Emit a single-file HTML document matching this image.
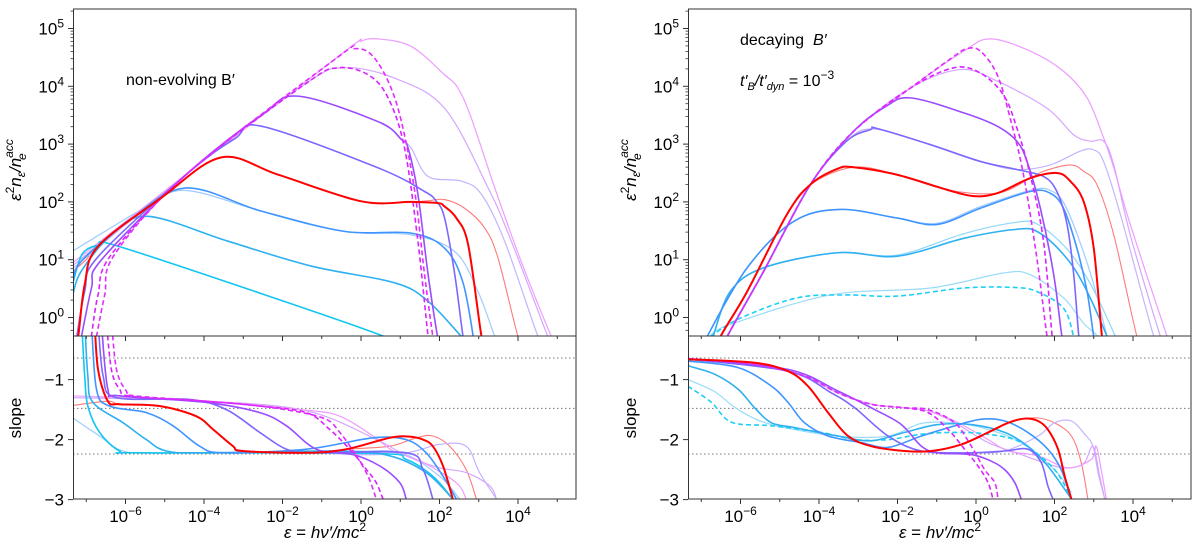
<!DOCTYPE html>
<html><head><meta charset="utf-8"><style>
html,body{margin:0;padding:0;background:#fff;}
svg{display:block;font-family:"Liberation Sans","DejaVu Sans",sans-serif;}
</style></head><body>
<svg id="chart" width="1200" height="557" viewBox="0 0 1200 557" xmlns="http://www.w3.org/2000/svg">
<defs>
<clipPath id="clipTop"><rect x="0" y="9" width="503" height="327"/></clipPath>
<clipPath id="clipBot"><rect x="0" y="336" width="503" height="163"/></clipPath>
</defs>
<g id="panelL" transform="translate(73,0)"></g>
<g id="panelR" transform="translate(688,0)"></g>
</svg>
<script>
// ---- data (log10 epsilon, log10 y) ----
const xTickExps = [-6,-4,-2,0,2,4];
const yTickExps = [0,1,2,3,4,5];
const slopeTicks = [-1,-2,-3];
const slopeRefLines = [-0.64,-1.48,-2.24];

// left top
const TL_cyan_x=[-7.34,-7.1,-6.70,-6.27,-2.96,0.60,1.2];
const TL_cyan_y=[0.6,1.1,1.25,1.25,0.51,-0.33,-0.6];
const TL_cyanblue_x=[-7.34,-7.13,-6.36,-5.43,-3.39,-1.27,0.86,1.71,2.56,2.8];
const TL_cyanblue_y=[0.4,0.80,1.43,1.75,1.32,0.89,0.60,0.28,-0.33,-0.5];
const TL_blue_x=[-7.34,-7.13,-5.94,-4.49,-2.54,-0.42,1.28,2.13,2.6,2.9];
const TL_blue_y=[0.6,0.97,1.66,2.24,1.84,1.49,1.46,1.20,0.6,-0.5];
const TL_lblue_x=[-7.34,-6.5,-5.5,-4.49,-2.54,-0.42,1.28,2.39,2.98,3.41,3.6];
const TL_lblue_y=[1.15,1.5,1.9,2.2,1.84,1.49,1.43,1.14,0.45,-0.33,-0.6];
const TL_red_x=[-7.34,-7.21,-7.04,-6.70,-5.09,-3.56,-2.11,0.01,1.28,1.96,2.13,2.43,2.73,3.07,3.2];
const TL_red_y=[-0.6,-0.35,0.57,1.23,2.07,2.77,2.47,2.01,2.00,1.98,1.92,1.72,1.26,-0.33,-0.6];
const TL_salmon_x=[-7.34,-7.0,-6.70,-5.09,-3.56,-2.11,0.01,1.28,1.71,2.13,2.64,3.15,3.49,4.0,4.2];
const TL_salmon_y=[0.8,1.0,1.23,2.07,2.77,2.47,2.01,2.00,2.02,2.04,1.89,1.55,1.03,-0.33,-0.6];
const TL_mslate_x=[-7.3,-7.04,-6.70,-4.41,-3.2,-2.54,0.43,1.62,1.92,2.13,2.39,2.60,2.7];
const TL_mslate_y=[-0.6,0.45,1.05,2.50,3.1,3.31,2.59,2.18,2.01,1.72,0.74,-0.33,-0.6];
const TL_violet_x=[-7.2,-6.87,-6.61,-4.41,-2.5,-1.61,0.43,1.03,1.20,1.45,1.71,1.95,2.05];
const TL_violet_y=[-0.6,0.5,1.0,2.50,3.52,3.83,3.39,3.08,2.93,2.13,0.74,-0.33,-0.6];
const TL_lav_x=[-7.34,-4.41,-2.5,-1.61,0.43,1.03,1.28,1.71,2.56,3.07,3.66,4.51,4.7];
const TL_lav_y=[0.85,2.5,3.52,3.83,3.39,3.08,2.93,2.44,2.36,2.13,1.32,-0.33,-0.5];
const TL_dash1_x=[-6.87,-6.70,-6.36,-4.41,-1.4,-0.59,0.18,0.69,1.11,1.45,1.71,1.8];
const TL_dash1_y=[-0.33,0.39,1.09,2.50,4.05,4.32,4.20,3.80,2.93,1.32,-0.33,-0.6];
const TL_dash2_x=[-6.74,-6.53,-6.27,-4.41,-0.6,-0.16,0.26,0.69,1.03,1.37,1.62,1.83,1.9];
const TL_dash2_y=[-0.33,0.39,1.1,2.50,4.5,4.65,4.55,4.09,3.39,2.18,0.74,-0.33,-0.6];
const TL_lviolet_x=[-7.34,-4.41,-1.4,-0.42,0.86,2.13,3.24,3.83,4.76,4.9];
const TL_lviolet_y=[0.9,2.50,4.05,4.32,4.14,3.62,2.24,1.32,-0.33,-0.5];
const TL_orchid_x=[-7.34,-4.41,-0.42,0.0,0.43,1.28,2.13,2.47,2.81,3.41,4.08,4.85,5.0];
const TL_orchid_y=[0.95,2.50,4.6,4.78,4.82,4.69,4.20,3.97,3.45,2.24,0.97,-0.33,-0.5];

// right top
const TR_cdash_x=[-6.77,-6.00,-4.56,-3.29,-2.01,-0.31,0.96,1.55,2.23,2.49,2.6];
const TR_cdash_y=[-0.33,-0.01,0.34,0.39,0.37,0.51,0.52,0.45,0.16,-0.33,-0.6];
const TR_lcyan_x=[-6.8,-6.26,-3.71,-1.16,0.70,1.38,2.23,2.74,3.1,3.2];
const TR_lcyan_y=[-0.33,-0.12,0.39,0.51,0.77,0.74,0.34,-0.1,-0.33,-0.6];
const TR_cyanblue_x=[-6.7,-6.26,-5.41,-3.54,-2.01,-0.31,0.96,1.55,2.23,2.74,3.34,3.45];
const TR_cyanblue_y=[-0.33,0.45,0.86,1.12,1.06,1.37,1.52,1.49,1.09,0.57,-0.33,-0.6];
const TR_lcyan2_x=[-6.7,-6.26,-5.41,-3.54,-2.01,-0.31,0.96,1.55,2.3,2.9,3.55,3.65];
const TR_lcyan2_y=[-0.33,0.45,0.86,1.12,1.08,1.45,1.64,1.62,1.2,0.6,-0.33,-0.6];
const TR_blue_x=[-7.0,-6.85,-5.83,-4.65,-3.46,-2.01,-0.99,0.11,1.38,1.89,2.23,2.57,2.83,3.0,3.1];
const TR_blue_y=[-0.6,-0.33,0.86,1.66,1.87,1.72,1.61,1.89,2.18,2.15,1.89,1.20,0.45,-0.33,-0.6];
const TR_lblue_x=[-7.0,-6.85,-5.83,-4.65,-3.46,-2.01,-0.99,0.11,1.38,1.89,2.3,2.9,3.34,3.45];
const TR_lblue_y=[-0.6,-0.33,0.86,1.66,1.87,1.72,1.63,1.92,2.2,2.2,1.9,0.8,-0.33,-0.6];
const TR_red_x=[-6.6,-6.51,-5.83,-4.82,-4.22,-3.54,-3.12,-2.01,-0.74,-0.06,0.54,1.38,2.06,2.40,2.74,3.00,3.21,3.3];
const TR_red_y=[-0.6,-0.33,0.45,1.78,2.30,2.57,2.60,2.47,2.21,2.10,2.15,2.41,2.50,2.36,2.01,1.20,-0.33,-0.6];
const TR_salmon_x=[-6.6,-6.51,-5.83,-4.82,-4.22,-3.12,-2.01,-0.74,0.54,1.38,1.72,2.40,2.74,3.08,3.51,4.10,4.3];
const TR_salmon_y=[-0.6,-0.33,0.45,1.78,2.30,2.60,2.47,2.21,2.15,2.41,2.53,2.64,2.53,2.30,1.43,-0.33,-0.6];
const TR_mslate_x=[-6.5,-6.34,-5.41,-4.22,-3.3,-2.69,-2.52,-1.16,0.11,1.04,1.72,2.06,2.32,2.49,2.62,2.7];
const TR_mslate_y=[-0.6,-0.33,0.80,2.30,3.05,3.25,3.27,2.99,2.70,2.56,2.44,2.18,1.61,0.74,-0.33,-0.6];
const TR_lav_x=[-6.5,-6.34,-5.41,-4.22,-3.3,-2.6,-1.16,0.11,1.04,1.89,2.66,3.0,3.25,3.68,4.53,4.7];
const TR_lav_y=[-0.6,-0.33,0.80,2.30,3.05,3.26,2.99,2.70,2.56,2.64,2.88,2.90,2.70,1.78,-0.33,-0.5];
const TR_violet_x=[-6.45,-6.34,-5.41,-4.22,-3.12,-2.3,-1.67,-0.31,0.54,1.04,1.30,1.64,1.98,2.19,2.3];
const TR_violet_y=[-0.6,-0.33,0.80,2.30,3.22,3.65,3.80,3.54,3.31,3.05,2.70,1.89,0.74,-0.33,-0.6];
const TR_dash1_x=[-6.45,-6.34,-5.41,-4.22,-3.12,-1.67,-0.57,0.11,0.70,1.04,1.38,1.72,1.94,2.0];
const TR_dash1_y=[-0.6,-0.33,0.80,2.30,3.22,3.97,4.32,4.23,3.85,3.28,2.47,1.32,-0.33,-0.6];
const TR_dash2_x=[-6.45,-6.34,-5.41,-4.22,-3.12,-1.67,-0.6,-0.23,0.11,0.54,0.87,1.21,1.55,1.81,1.9];
const TR_dash2_y=[-0.6,-0.33,0.80,2.30,3.22,3.97,4.5,4.65,4.61,4.20,3.45,2.47,1.03,-0.33,-0.6];
const TR_lviolet_x=[-6.45,-6.34,-5.41,-4.22,-3.12,-1.67,-0.40,0.54,1.81,2.49,2.91,3.25,3.51,3.93,4.70,4.85];
const TR_lviolet_y=[-0.6,-0.33,0.80,2.30,3.22,3.97,4.29,4.09,3.62,3.16,3.05,3.05,2.64,1.43,-0.33,-0.5];
const TR_orchid_x=[-6.45,-6.34,-5.41,-4.22,-3.12,-1.67,-0.31,0.37,1.38,2.23,2.83,3.25,3.51,3.93,4.87,5.0];
const TR_orchid_y=[-0.6,-0.33,0.80,2.30,3.22,3.97,4.61,4.82,4.61,4.26,3.80,3.11,2.59,1.61,-0.33,-0.5];

// left bottom (slope)
const BL_lblue_x=[-7.34,-6.66,-6.06,-5.0,-0.5,1.0,2.00,2.51];
const BL_lblue_s=[-1.64,-1.94,-2.19,-2.22,-2.20,-2.22,-2.61,-2.99];
const BL_cyan_x=[-7.12,-7.04,-6.96,-6.66,-6.15,-5.64,0.31,1.15,1.83,2.34];
const BL_cyan_s=[0,-0.94,-1.44,-1.88,-2.19,-2.22,-2.23,-2.33,-2.61,-2.99];
const BL_cyanblue_x=[-7.04,-6.96,-6.83,-6.06,-5.47,-4.96,-3.94,-0.54,0.73,1.66,2.34];
const BL_cyanblue_s=[0,-0.94,-1.38,-1.72,-2.00,-2.19,-2.22,-2.19,-2.27,-2.55,-2.99];
const BL_blue_x=[-6.87,-6.74,-6.41,-5.47,-4.79,-4.11,-3.52,-1.39,0.31,1.15,1.66,2.09,2.43];
const BL_blue_s=[0,-1.16,-1.44,-1.55,-1.77,-2.11,-2.22,-2.16,-1.97,-2.00,-2.22,-2.61,-2.99];
const BL_red_x=[-6.79,-6.70,-6.45,-6.15,-5.13,-4.20,-3.77,-3.26,-3.01,-1.39,-0.37,0.73,1.24,1.58,1.83,2.09,2.34];
const BL_red_s=[0,-0.83,-1.36,-1.41,-1.44,-1.61,-1.83,-2.11,-2.19,-2.22,-2.16,-1.97,-1.95,-2.00,-2.11,-2.44,-2.99];
const BL_salmon_x=[-7.34,-6.45,-6.15,-5.13,-4.20,-3.77,-3.26,-3.01,-1.39,-0.37,0.73,1.41,1.83,2.26,2.68,2.94];
const BL_salmon_s=[-1.43,-1.36,-1.41,-1.44,-1.61,-1.83,-2.11,-2.19,-2.22,-2.16,-2.11,-1.97,-1.94,-2.11,-2.50,-2.99];
const BL_mslate_x=[-6.70,-6.57,-6.23,-4.37,-3.43,-2.58,-1.90,-1.22,1.15,1.58,1.83];
const BL_mslate_s=[0,-0.94,-1.30,-1.33,-1.50,-1.88,-2.16,-2.22,-2.22,-2.50,-2.99];
const BL_lav_x=[-6.62,-6.45,-6.15,-3.94,-2.58,-1.90,-1.14,-0.20,1.15,2.00,2.68,3.02,3.45];
const BL_lav_s=[0,-1.16,-1.27,-1.38,-1.55,-1.77,-2.16,-2.25,-2.22,-2.08,-2.11,-2.55,-2.99];
const BL_violet_x=[-6.62,-6.45,-6.15,-3.94,-2.58,-1.90,-1.14,-0.20,0.48,0.99,1.15];
const BL_violet_s=[0,-1.16,-1.27,-1.38,-1.55,-1.77,-2.16,-2.25,-2.44,-2.72,-2.99];
const BL_dash1_x=[-6.49,-6.36,-6.15,-5.85,-3.94,-2.58,-1.39,-0.80,-0.29,0.14,0.39,0.56];
const BL_dash1_s=[0,-0.83,-1.16,-1.28,-1.36,-1.44,-1.55,-1.83,-2.16,-2.50,-2.72,-2.99];
const BL_dash2_x=[-6.36,-6.23,-5.98,-5.77,-3.94,-2.24,-0.97,-0.54,-0.12,0.18,0.39];
const BL_dash2_s=[0,-0.83,-1.19,-1.27,-1.36,-1.47,-1.64,-1.88,-2.27,-2.61,-2.99];
const BL_lviolet_x=[-7.34,-3.94,-1.39,0.4,1.15,2.00,2.68,3.28,3.45];
const BL_lviolet_s=[-1.30,-1.36,-1.52,-2.0,-2.27,-2.47,-2.55,-2.77,-2.99];
const BL_orchid_x=[-7.34,-3.94,-1.39,-0.54,0.31,0.82,1.58,2.43,2.68];
const BL_orchid_s=[-1.27,-1.36,-1.51,-1.61,-1.94,-2.19,-2.38,-2.72,-2.99];

// right bottom (slope)
const BR_cdash_x=[-7.34,-6.74,-6.23,-5.21,-3.94,-3.09,-2.24,-1.39,-0.54,0.31,1.15,2.00,2.43];
const BR_cdash_s=[-1.11,-1.38,-1.71,-1.77,-1.88,-2.00,-2.00,-1.91,-1.88,-1.91,-2.05,-2.50,-2.99];
const BR_lcyan_x=[-7.34,-6.66,-6.06,-5.21,-3.52,-2.24,-1.39,-0.54,0.31,1.15,2.00,2.43];
const BR_lcyan_s=[-1.0,-1.2,-1.5,-1.75,-1.94,-1.94,-1.73,-1.72,-1.83,-2.05,-2.50,-2.88];
const BR_cyanblue_x=[-7.34,-6.66,-6.06,-5.64,-5.21,-4.62,-3.52,-2.67,-1.82,-0.97,-0.12,0.73,1.32,1.83,2.43];
const BR_cyanblue_s=[-0.77,-0.91,-1.16,-1.47,-1.72,-1.80,-1.94,-2.02,-1.88,-1.75,-1.75,-1.88,-2.11,-2.44,-2.99];
const BR_blue_x=[-7.34,-6.06,-5.21,-4.79,-4.37,-3.77,-2.92,-2.24,-1.39,-0.54,0.14,0.73,1.32,1.83,2.17,2.43];
const BR_blue_s=[-0.69,-0.80,-1.11,-1.38,-1.72,-1.94,-2.05,-2.13,-1.94,-1.77,-1.66,-1.69,-1.88,-2.16,-2.50,-2.99];
const BR_red_x=[-7.34,-5.64,-4.79,-4.28,-3.77,-3.26,-2.67,-1.82,-1.14,-0.37,0.31,0.82,1.24,1.58,1.83,2.09,2.26,2.43];
const BR_red_s=[-0.66,-0.72,-0.86,-1.11,-1.55,-1.94,-2.11,-2.19,-2.19,-2.08,-1.88,-1.72,-1.65,-1.69,-1.83,-2.16,-2.61,-2.99];
const BR_salmon_x=[-7.34,-5.64,-4.79,-4.28,-3.77,-3.26,-2.67,-1.82,-1.14,-0.37,0.31,0.82,1.15,1.58,2.00,2.43,2.68,2.85];
const BR_salmon_s=[-0.66,-0.72,-0.86,-1.11,-1.55,-1.94,-2.11,-2.19,-2.19,-2.08,-1.88,-1.72,-1.66,-1.64,-1.72,-1.94,-2.38,-2.99];
const BR_mslate_x=[-7.34,-4.79,-3.69,-3.09,-2.24,-1.39,-0.12,0.73,1.32,1.66,1.83,1.96];
const BR_mslate_s=[-0.66,-0.86,-1.22,-1.47,-1.94,-2.19,-2.22,-2.19,-2.16,-2.38,-2.77,-2.99];
const BR_lav_x=[-7.34,-4.79,-3.69,-3.09,-2.24,-1.39,-0.12,0.73,1.58,2.00,2.43,2.77,2.98,3.11,3.28];
const BR_lav_s=[-0.66,-0.86,-1.22,-1.47,-1.94,-2.19,-2.22,-2.19,-1.94,-1.72,-1.69,-1.91,-2.11,-2.55,-2.99];
const BR_violet_x=[-7.34,-4.79,-3.52,-2.58,-1.90,-1.39,-0.97,-0.12,0.39,0.73,0.99,1.15];
const BR_violet_s=[-0.65,-0.83,-1.19,-1.50,-1.75,-2.11,-2.22,-2.25,-2.36,-2.50,-2.72,-2.99];
const BR_dash1_x=[-7.34,-5.64,-4.37,-3.52,-2.67,-1.82,-1.22,-0.71,-0.29,0.05,0.31,0.43];
const BR_dash1_s=[-0.65,-0.75,-0.94,-1.22,-1.41,-1.47,-1.55,-1.83,-2.16,-2.44,-2.72,-2.99];
const BR_dash2_x=[-7.34,-5.64,-4.37,-3.52,-2.67,-1.82,-1.22,-0.54,-0.12,0.22,0.48,0.56];
const BR_dash2_s=[-0.65,-0.75,-0.94,-1.22,-1.41,-1.47,-1.50,-1.72,-2.11,-2.50,-2.72,-2.99];
const BR_lviolet_x=[-7.34,-5.64,-4.37,-3.52,-2.67,-1.82,-1.22,-0.54,0.31,1.15,2.00,2.43,2.77,2.98,3.15,3.28];
const BR_lviolet_s=[-0.65,-0.75,-0.94,-1.22,-1.41,-1.47,-1.52,-1.72,-2.05,-2.25,-2.44,-2.47,-2.38,-2.11,-2.6,-2.99];
const BR_orchid_x=[-7.34,-5.64,-4.37,-3.52,-2.67,-1.82,-1.22,-0.54,0.31,0.82,1.58,2.34,2.94,3.06,3.19,3.32];
const BR_orchid_s=[-0.65,-0.75,-0.94,-1.22,-1.41,-1.47,-1.52,-1.69,-2.00,-2.19,-2.27,-2.47,-2.33,-2.11,-2.50,-2.99];

// ---- styles ----
const ST={
 cyan:{c:'#12c6f2',w:1.6,o:1},cyanblue:{c:'#2fb0f0',w:1.6,o:1},blue:{c:'#3f95ff',w:1.6,o:1},
 lblue:{c:'#9fcbff',w:1.2,o:1},lcyan:{c:'#9adcf8',w:1.2,o:1},lcyan2:{c:'#8fd6fa',w:1.2,o:1},cdash:{c:'#1fd0f5',w:1.6,o:1,d:'5,3'},
 red:{c:'#ff0000',w:2,o:1},salmon:{c:'#ff7a7a',w:1.1,o:1},mslate:{c:'#7b68ff',w:1.6,o:1},
 lav:{c:'#c4b4ff',w:1.2,o:1},violet:{c:'#9a4cff',w:1.6,o:1},dash1:{c:'#d923ff',w:1.6,o:1,d:'5,3'},
 dash2:{c:'#e02cff',w:1.6,o:1,d:'5,3'},lviolet:{c:'#d6a6ff',w:1.2,o:1},orchid:{c:'#ee9cff',w:1.2,o:1}
};
const NS='http://www.w3.org/2000/svg';
function X(l){return 288 + l*39.25;}
function YT(l){return 317.5 - l*57.8;}
function YB(s){return 379.6 - (s+1)*60;}
function mk(tag,attrs,parent){const e=document.createElementNS(NS,tag);for(const k in attrs)e.setAttribute(k,attrs[k]);parent.appendChild(e);return e;}
function smooth(pts){
 let d='M'+pts[0][0].toFixed(2)+','+pts[0][1].toFixed(2);
 for(let i=0;i<pts.length-1;i++){
  const p0=pts[Math.max(0,i-1)],p1=pts[i],p2=pts[i+1],p3=pts[Math.min(pts.length-1,i+2)];
  const c1x=p1[0]+(p2[0]-p0[0])/6,c1y=p1[1]+(p2[1]-p0[1])/6,c2x=p2[0]-(p3[0]-p1[0])/6,c2y=p2[1]-(p3[1]-p1[1])/6;
  d+=' C'+c1x.toFixed(2)+','+c1y.toFixed(2)+' '+c2x.toFixed(2)+','+c2y.toFixed(2)+' '+p2[0].toFixed(2)+','+p2[1].toFixed(2);
 }return d;}
function drawCurve(g,xs,ys,yf,style,name){
 const pts=xs.map((v,i)=>[X(v),yf(ys[i])]);
 const st=ST[style];
 const p=mk('path',{d:smooth(pts),fill:'none',stroke:st.c,'stroke-width':st.w,'stroke-opacity':st.o,'stroke-linejoin':'round'},g);
 if(st.d)p.setAttribute('stroke-dasharray',st.d);
 
 
}
function txt(parent,x,y,s,attrs){const t=mk('text',Object.assign({x:x,y:y,'font-size':17,fill:'#000'},attrs||{}),parent);t.innerHTML=s;return t;}

function buildPanel(g,top,bot,side){
 const gb=mk('g',{'clip-path':'url(#clipBot)'},g);
 
 
 slopeRefLines.forEach(v=>{const l=mk('line',{x1:0,x2:503,y1:YB(v),y2:YB(v),stroke:'#777','stroke-width':1,'stroke-dasharray':'1.5,2.5'},gb);
  
  });
 const gt=mk('g',{'clip-path':'url(#clipTop)'},g);
 
 
 top.forEach(c=>drawCurve(gt,c[0],c[1],YT,c[2],side+'-spectrum-'+c[2]));
 bot.forEach(c=>drawCurve(gb,c[0],c[1],YB,c[2],side+'-slope-'+c[2]));
 const f1=mk('rect',{x:0.5,y:9,width:502.5,height:327,fill:'none',stroke:'#333','stroke-width':1},g);
 
 const f2=mk('rect',{x:0.5,y:336,width:502.5,height:163,fill:'none',stroke:'#333','stroke-width':1},g);
 
 for(let e=-7;e<=5;e++){const x=X(e);const major=xTickExps.indexOf(e)>=0;
  mk('line',{x1:x,x2:x,y1:499,y2:499+(major?5:3),stroke:'#333','stroke-width':1},g);
  mk('line',{x1:x,x2:x,y1:336,y2:336+(major?5:3),stroke:'#333','stroke-width':1},g);}
 xTickExps.forEach(e=>{const t=txt(g,X(e),522,'10<tspan dy="-7" font-size="12">'+(e<0?'\u2212'+(-e):e)+'</tspan>',{'text-anchor':'middle'});
  });
 yTickExps.forEach(e=>{mk('line',{x1:-5,x2:0,y1:YT(e),y2:YT(e),stroke:'#333','stroke-width':1},g);
  for(let m=2;m<10;m++){const yy=YT(e+Math.log10(m));if(yy>9&&yy<336)mk('line',{x1:-2.5,x2:0,y1:yy,y2:yy,stroke:'#333','stroke-width':0.8},g);}
  const t=txt(g,-9,YT(e)+6,'10<tspan dy="-7" font-size="12">'+e+'</tspan>',{'text-anchor':'end'});
  });
 { const yy=YT(Math.log10(0.6)); mk('line',{x1:-2.5,x2:0,y1:yy,y2:yy,stroke:'#333','stroke-width':0.8},g);
   const yy2=YT(Math.log10(0.8)); mk('line',{x1:-2.5,x2:0,y1:yy2,y2:yy2,stroke:'#333','stroke-width':0.8},g);}
 slopeTicks.forEach(v=>{mk('line',{x1:-5,x2:0,y1:YB(v),y2:YB(v),stroke:'#333','stroke-width':1},g);
  const t=txt(g,-9,YB(v)+6,'\u2212'+(-v),{'text-anchor':'end'});
  });
 const xt=txt(g,252,538,'<tspan font-style="italic">\u03b5</tspan> = <tspan font-style="italic">h\u03bd\u2032/mc</tspan><tspan dy="-7" font-size="12">2</tspan>',{'text-anchor':'middle'});
 
 const yt=txt(g,0,0,'<tspan font-style="italic">\u03b5</tspan><tspan dy="-7" font-size="12">2</tspan><tspan dy="7" font-style="italic">n</tspan><tspan dy="4" font-size="12" font-style="italic">\u03b5</tspan><tspan dy="-4" font-style="italic">/n</tspan><tspan dy="-8" font-size="12" font-style="italic">acc</tspan>',{'text-anchor':'middle',transform:'translate(-52,170) rotate(-90)'});
 
 const ye=txt(g,0,0,'e',{'font-size':12,'font-style':'italic',transform:'translate(-47,160) rotate(-90)'});
 
 const st=txt(g,0,0,'slope',{'text-anchor':'middle',transform:'translate(-52,418) rotate(-90)'});
 
}

const gL=document.getElementById('panelL'), gR=document.getElementById('panelR');
buildPanel(gL,[
 [TL_lblue_x,TL_lblue_y,'lblue'],[TL_salmon_x,TL_salmon_y,'salmon'],[TL_lav_x,TL_lav_y,'lav'],[TL_lviolet_x,TL_lviolet_y,'lviolet'],[TL_orchid_x,TL_orchid_y,'orchid'],
 [TL_cyan_x,TL_cyan_y,'cyan'],[TL_cyanblue_x,TL_cyanblue_y,'cyanblue'],[TL_blue_x,TL_blue_y,'blue'],
 [TL_mslate_x,TL_mslate_y,'mslate'],[TL_violet_x,TL_violet_y,'violet'],[TL_dash1_x,TL_dash1_y,'dash1'],[TL_dash2_x,TL_dash2_y,'dash2'],[TL_red_x,TL_red_y,'red']
],[
 [BL_lblue_x,BL_lblue_s,'lblue'],[BL_salmon_x,BL_salmon_s,'salmon'],[BL_lav_x,BL_lav_s,'lav'],[BL_lviolet_x,BL_lviolet_s,'lviolet'],[BL_orchid_x,BL_orchid_s,'orchid'],
 [BL_cyan_x,BL_cyan_s,'cyan'],[BL_cyanblue_x,BL_cyanblue_s,'cyanblue'],[BL_blue_x,BL_blue_s,'blue'],
 [BL_mslate_x,BL_mslate_s,'mslate'],[BL_violet_x,BL_violet_s,'violet'],[BL_dash1_x,BL_dash1_s,'dash1'],[BL_dash2_x,BL_dash2_s,'dash2'],[BL_red_x,BL_red_s,'red']
],'left');
buildPanel(gR,[
 [TR_lcyan_x,TR_lcyan_y,'lcyan'],[TR_lcyan2_x,TR_lcyan2_y,'lcyan2'],[TR_lblue_x,TR_lblue_y,'lblue'],[TR_salmon_x,TR_salmon_y,'salmon'],[TR_lav_x,TR_lav_y,'lav'],[TR_lviolet_x,TR_lviolet_y,'lviolet'],[TR_orchid_x,TR_orchid_y,'orchid'],
 [TR_cdash_x,TR_cdash_y,'cdash'],[TR_cyanblue_x,TR_cyanblue_y,'cyanblue'],[TR_blue_x,TR_blue_y,'blue'],
 [TR_mslate_x,TR_mslate_y,'mslate'],[TR_violet_x,TR_violet_y,'violet'],[TR_dash1_x,TR_dash1_y,'dash1'],[TR_dash2_x,TR_dash2_y,'dash2'],[TR_red_x,TR_red_y,'red']
],[
 [BR_lcyan_x,BR_lcyan_s,'lcyan'],[BR_salmon_x,BR_salmon_s,'salmon'],[BR_lav_x,BR_lav_s,'lav'],[BR_lviolet_x,BR_lviolet_s,'lviolet'],[BR_orchid_x,BR_orchid_s,'orchid'],
 [BR_cdash_x,BR_cdash_s,'cdash'],[BR_cyanblue_x,BR_cyanblue_s,'cyanblue'],[BR_blue_x,BR_blue_s,'blue'],
 [BR_mslate_x,BR_mslate_s,'mslate'],[BR_violet_x,BR_violet_s,'violet'],[BR_dash1_x,BR_dash1_s,'dash1'],[BR_dash2_x,BR_dash2_s,'dash2'],[BR_red_x,BR_red_s,'red']
],'right');

const a1=txt(gL,53,85,'non-evolving B\u2032',{'font-size':16});

const a2=txt(gR,52,45,'decaying&#160;&#160;<tspan font-style="italic">B\u2032</tspan>',{'font-size':16});

const a3=txt(gR,52,86,'<tspan font-style="italic">t\u2032</tspan><tspan dy="4" font-size="11" font-style="italic">B</tspan><tspan dy="-4" font-style="italic">/t\u2032</tspan><tspan dy="4" font-size="11" font-style="italic">dyn</tspan><tspan dy="-4"> = 10</tspan><tspan dy="-7" font-size="12">\u22123</tspan>',{'font-size':16});

</script>
</body></html>
